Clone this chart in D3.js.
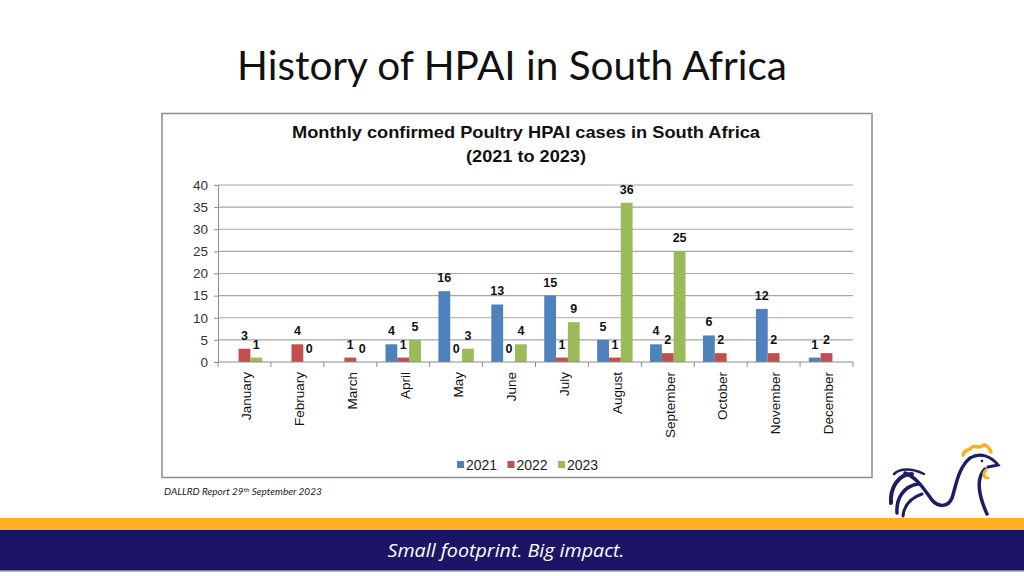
<!DOCTYPE html>
<html>
<head>
<meta charset="utf-8">
<script src="https://cdn.jsdelivr.net/npm/d3@7"></script>
<style>
  body { margin: 0; background: #fff; }
  svg { display: block; }
</style>
</head>
<body>
<svg width="1024" height="576"></svg>
<script>
  // values
  const months = ['January', 'February', 'March', 'April', 'May', 'June',
    'July', 'August', 'September', 'October', 'November', 'December'];
  const years = ['2021', '2022', '2023'];
  const cases2021 = [null, null, null, 4, 16, 13, 15, 5, 4, 6, 12, 1];
  const cases2022 = [3, 4, 1, 1, 0, 0, 1, 1, 2, 2, 2, 2];
  const cases2023 = [1, 0, 0, 5, 3, 4, 9, 36, 25, null, null, null];
  const yTicks = [0, 5, 10, 15, 20, 25, 30, 35, 40];
  const colors = ['#4F81BD', '#C0504D', '#9BBB59'];

  const svg = d3.select('svg');
  const width = +svg.attr('width');

  // slide title
  svg.append('text')
    .attr('x', 512)
    .attr('y', 80)
    .attr('text-anchor', 'middle')
    .attr('font-family', 'Lato, "Open Sans", sans-serif')
    .attr('font-size', 40.5)
    .attr('fill', '#111')
    .text('History of HPAI in South Africa');

  // chart frame
  svg.append('rect')
    .attr('x', 162).attr('y', 113.5)
    .attr('width', 710).attr('height', 364)
    .attr('fill', '#fff')
    .attr('stroke', '#8c8c8c')
    .attr('stroke-width', 1.5);

  const chartFont = '"Liberation Sans", Arial, sans-serif';

  const titleG = svg.append('g')
    .attr('font-family', chartFont)
    .attr('font-weight', 'bold')
    .attr('font-size', 17)
    .attr('text-anchor', 'middle')
    .attr('fill', '#111');
  titleG.append('text')
    .attr('x', 526).attr('y', 138)
    .attr('textLength', 468).attr('lengthAdjust', 'spacingAndGlyphs')
    .text('Monthly confirmed Poultry HPAI cases in South Africa');
  titleG.append('text')
    .attr('x', 526).attr('y', 162)
    .attr('textLength', 120).attr('lengthAdjust', 'spacingAndGlyphs')
    .text('(2021 to 2023)');

  const margin = { top: 185, left: 218 };
  const innerWidth = 635;
  const innerHeight = 177;

  const g = svg.append('g')
    .attr('transform', `translate(${margin.left},${margin.top})`);

  const x0 = d3.scaleBand().domain(months).range([0, innerWidth]);
  const x1 = d3.scaleBand().domain(years).range([0, x0.bandwidth()]).paddingOuter(0.74);
  const y = d3.scaleLinear().domain([0, 40]).range([innerHeight, 0]);

  // gridlines
  g.append('g')
    .selectAll('line')
    .data(yTicks.filter(d => d > 0))
    .join('line')
      .attr('x1', 0).attr('x2', innerWidth)
      .attr('y1', d => y(d)).attr('y2', d => y(d))
      .attr('stroke', '#a6a6a6')
      .attr('stroke-width', 1.2);

  // y axis
  const yAxisG = g.append('g')
    .call(d3.axisLeft(y).tickValues(yTicks).tickSize(4).tickPadding(6));
  yAxisG.select('.domain').attr('stroke', '#8c8c8c');
  yAxisG.selectAll('.tick line').attr('stroke', '#8c8c8c');
  yAxisG.selectAll('text')
    .attr('font-family', chartFont)
    .attr('font-size', 13.5)
    .attr('fill', '#333');

  // bars
  const series = [cases2021, cases2022, cases2023];
  const rows = [];
  series.forEach((vals, si) => {
    vals.forEach((v, mi) => {
      if (v !== null) rows.push({ month: months[mi], year: years[si], value: v, color: colors[si] });
    });
  });

  g.append('g')
    .selectAll('rect')
    .data(rows)
    .join('rect')
      .attr('x', d => x0(d.month) + x1(d.year))
      .attr('y', d => y(d.value))
      .attr('width', x1.bandwidth())
      .attr('height', d => innerHeight - y(d.value))
      .attr('fill', d => d.color);

  // data labels
  g.append('g')
    .selectAll('text')
    .data(rows)
    .join('text')
      .attr('x', d => x0(d.month) + x1(d.year) + x1.bandwidth() / 2)
      .attr('y', d => y(d.value) - 9)
      .attr('text-anchor', 'middle')
      .attr('font-family', chartFont)
      .attr('font-weight', 'bold')
      .attr('font-size', 12.5)
      .attr('fill', '#111')
      .text(d => d.value);

  // x axis with category boundaries
  const xAxisG = g.append('g')
    .attr('transform', `translate(0,${innerHeight})`);
  xAxisG.append('line')
    .attr('x1', 0).attr('x2', innerWidth)
    .attr('stroke', '#8c8c8c').attr('stroke-width', 1.2);
  xAxisG.selectAll('.tick-mark')
    .data(months.concat(['end']))
    .join('line')
      .attr('class', 'tick-mark')
      .attr('x1', (d, i) => i * x0.step())
      .attr('x2', (d, i) => i * x0.step())
      .attr('y1', 0).attr('y2', 5)
      .attr('stroke', '#8c8c8c');
  xAxisG.selectAll('.month')
    .data(months)
    .join('text')
      .attr('class', 'month')
      .attr('transform', d => `translate(${x0(d) + x0.bandwidth() / 2 + 2},10) rotate(-90)`)
      .attr('dy', '0.35em')
      .attr('text-anchor', 'end')
      .attr('font-family', chartFont)
      .attr('font-size', 13.5)
      .attr('fill', '#111')
      .text(d => d);

  // legend
  const legend = svg.append('g')
    .attr('transform', 'translate(457,465)')
    .attr('font-family', chartFont)
    .attr('font-size', 14)
    .attr('fill', '#222');
  const item = legend.selectAll('g')
    .data(years)
    .join('g')
      .attr('transform', (d, i) => `translate(${i * 50.5},0)`);
  item.append('rect')
    .attr('x', 0).attr('y', -4)
    .attr('width', 7).attr('height', 7)
    .attr('fill', (d, i) => colors[i]);
  item.append('text')
    .attr('x', 9).attr('dy', '0.35em')
    .text(d => d);

  // source note
  const note = svg.append('text')
    .attr('x', 164).attr('y', 495)
    .attr('font-family', 'Lato, "Open Sans", sans-serif')
    .attr('font-style', 'italic')
    .attr('font-size', 10)
    .attr('fill', '#222');
  note.append('tspan').text('DALLRD Report 29');
  note.append('tspan').attr('dy', -3).attr('font-size', 6.5).text('th');
  note.append('tspan').attr('dy', 3).text(' September 2023');

  // rooster logo
  const logo = svg.append('g')
    .attr('fill', 'none')
    .attr('stroke', '#1f1c66')
    .attr('stroke-linecap', 'round');
  logo.append('path')
    .attr('stroke-width', 3)
    .attr('d', 'M970 458 C980 452 991 456 998 465 L988 467');
  logo.append('path')
    .attr('stroke-width', 3.5)
    .attr('d', 'M985 469 C976 478 978 494 987 514');
  logo.append('path')
    .attr('stroke-width', 3.5)
    .attr('d', 'M970 458 C958 468 956 486 952 498 C948 508 938 507 932 500 C925 491 918 478 905 473');
  logo.append('path')
    .attr('stroke-width', 4)
    .attr('d', 'M912 474 C898 474 890 488 891 503');
  logo.append('path')
    .attr('stroke-width', 3.5)
    .attr('d', 'M918 484 C904 486 896 498 897 513');
  logo.append('path')
    .attr('stroke-width', 3)
    .attr('d', 'M922 494 C910 498 904 506 903 516');
  logo.append('path')
    .attr('stroke-width', 2.5)
    .attr('d', 'M924 474 C912 468 900 468 894 474');
  logo.append('circle')
    .attr('cx', 982).attr('cy', 461).attr('r', 1.3)
    .attr('fill', '#1f1c66').attr('stroke', 'none');
  logo.append('path')
    .attr('stroke', '#f2b320').attr('stroke-width', 3.5)
    .attr('d', 'M963 455 C964 449 969 451 971 448 C974 444 979 449 982 446 C986 443 990 449 991 452');
  logo.append('path')
    .attr('stroke', '#f2b320').attr('stroke-width', 3)
    .attr('d', 'M986 470 C982 474 984 478 988 478');

  // footer bands
  svg.append('rect')
    .attr('x', 0).attr('y', 518).attr('width', width).attr('height', 12)
    .attr('fill', '#fdb022');
  svg.append('rect')
    .attr('x', 0).attr('y', 530).attr('width', width).attr('height', 40)
    .attr('fill', '#1c1566');
  svg.append('rect')
    .attr('x', 0).attr('y', 570).attr('width', width).attr('height', 1.5)
    .attr('fill', '#6b7fae');
  svg.append('text')
    .attr('x', 506).attr('y', 557)
    .attr('text-anchor', 'middle')
    .attr('font-family', '"Liberation Sans Narrow", "Open Sans", sans-serif')
    .attr('font-style', 'italic')
    .attr('font-size', 19)
    .attr('textLength', 237).attr('lengthAdjust', 'spacingAndGlyphs')
    .attr('fill', '#fff')
    .text('Small footprint. Big impact.');
</script>
</body>
</html>
